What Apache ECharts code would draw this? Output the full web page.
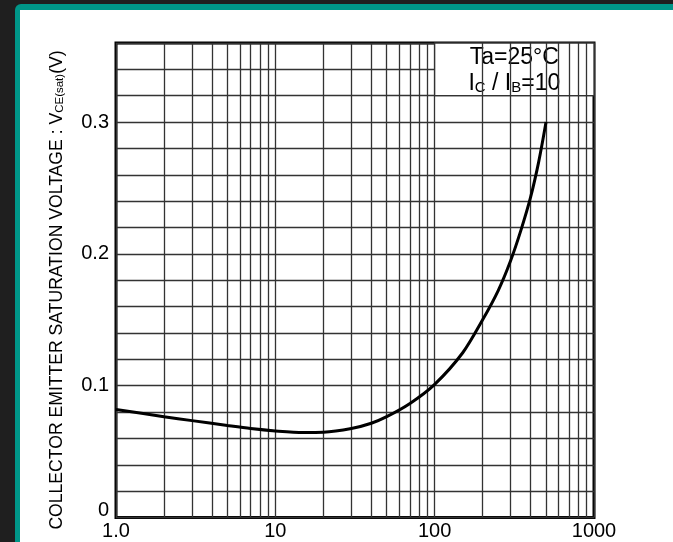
<!DOCTYPE html>
<html>
<head>
<meta charset="utf-8">
<script src="https://cdn.jsdelivr.net/npm/echarts@6/dist/echarts.min.js"></script>
<style>
html,body{margin:0;padding:0;background:#1f1f1f;}
#chart{width:673px;height:542px;}
</style>
</head>
<body>
<div id="chart"></div>
<script>
// Collector current Ic (mA)
const current = [1, 2, 3, 5, 7, 10, 15, 20, 30, 40, 50, 70, 100, 150, 200, 250, 300, 350, 400, 450, 500];
// VCE(sat) (V)
const vce = [0.082, 0.0765, 0.0735, 0.0698, 0.0675, 0.0657, 0.0645, 0.0647, 0.0675, 0.0715, 0.0765, 0.0865, 0.101, 0.125, 0.150, 0.172, 0.195, 0.219, 0.243, 0.270, 0.300];
// Minor vertical grid lines (log decades)
const minorGridX = [2,3,4,5,6,7,8,9,20,30,40,50,60,70,80,90,200,300,400,500,600,700,800,900];
const xTickLabels = {1: '1.0', 10: '10', 100: '100', 1000: '1000'};
const yLabelValues = [0, 0.1, 0.2, 0.3];

const FONT = "'Liberation Sans', Arial, sans-serif";
const GRIDC = '#333';
const chart = echarts.init(document.getElementById('chart'));

const option = {
  animation: false,
  backgroundColor: 'transparent',
  graphic: [
    {type: 'rect', z: -10, shape: {x: 15, y: 4, width: 700, height: 600, r: [6,0,0,0]}, style: {fill: '#009688'}},
    {type: 'rect', z: -9, shape: {x: 20, y: 10, width: 700, height: 600}, style: {fill: '#ffffff'}},
    {
      type: 'text', z: 10, x: 57, y: 290, rotation: Math.PI / 2,
      style: {
        text: '{a|COLLECTOR EMITTER SATURATION VOLTAGE : V}{s|CE(sat)}{a|(V)}',
        align: 'center', verticalAlign: 'middle',
        rich: {
          a: {fontFamily: FONT, fontSize: 17.6, fill: '#000', verticalAlign: 'bottom'},
          s: {fontFamily: FONT, fontSize: 11.5, fill: '#000', verticalAlign: 'bottom'}
        }
      }
    }
  ],
  grid: {left: 116, top: 43, width: 478, height: 474.5, show: true, borderColor: '#000', borderWidth: 3, backgroundColor: '#fff'},
  xAxis: {
    type: 'log', logBase: 10, min: 1, max: 1000,
    axisLine: {show: false}, axisTick: {show: false},
    axisLabel: {
      margin: 4, fontSize: 20, color: '#000', fontFamily: FONT,
      formatter: v => xTickLabels[Math.round(v)] || ''
    },
    splitLine: {show: true, lineStyle: {color: GRIDC, width: 1.3}}
  },
  yAxis: {
    type: 'value', min: 0, max: 0.36, interval: 0.02,
    axisLine: {show: false}, axisTick: {show: false},
    axisLabel: {
      margin: 7, fontSize: 20, color: '#000', fontFamily: FONT, showMaxLabel: false,
      formatter: v => {
        for (const t of yLabelValues) if (Math.abs(v - t) < 1e-6) return t === 0 ? '{z|0}' : t.toFixed(1);
        return '';
      },
      rich: {z: {fontSize: 20, fontFamily: FONT, color: '#000', padding: [0, 0, 14, 0]}}
    },
    splitLine: {show: true, lineStyle: {color: GRIDC, width: 1.3}}
  },
  series: [
    {
      type: 'line', z: 1, data: [], silent: true,
      markLine: {
        silent: true, symbol: ['none', 'none'], label: {show: false},
        lineStyle: {color: GRIDC, width: 1.3, type: 'solid'},
        data: minorGridX.map(v => ({xAxis: v}))
      }
    },
    {
      type: 'line', z: 3, data: [], silent: true,
      markArea: {
        silent: true,
        itemStyle: {color: '#fff', borderColor: GRIDC, borderWidth: 1.3},
        label: {
          show: true, position: 'inside',
          formatter: '{a|Ta=25°C}\n{a|I}{s|C}{a| / I}{s|B}{a|=10}',
          rich: {
            a: {fontFamily: FONT, fontSize: 23, color: '#000', lineHeight: 26, verticalAlign: 'bottom'},
            s: {fontFamily: FONT, fontSize: 15, color: '#000', lineHeight: 26, verticalAlign: 'bottom'}
          }
        },
        data: [[{xAxis: 100, yAxis: 0.32}, {xAxis: 1000, yAxis: 0.36}]]
      }
    },
    {
      type: 'line', z: 5, smooth: 0.3, showSymbol: false,
      lineStyle: {color: '#000', width: 3},
      data: current.map((c, i) => [c, vce[i]])
    }
  ]
};
chart.setOption(option);
</script>
</body>
</html>
